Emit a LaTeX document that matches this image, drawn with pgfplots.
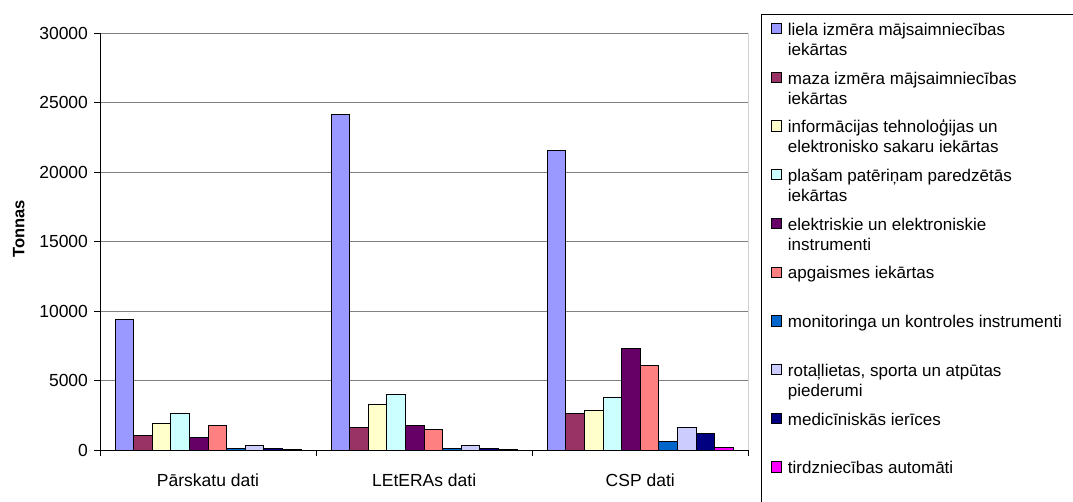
\documentclass[border=0pt]{standalone}
\usepackage{fontspec}
\setmainfont{Liberation Sans}
\usepackage{pgfplots}
\pgfplotsset{compat=1.18}
\definecolor{c1}{HTML}{9999FF}
\definecolor{c2}{HTML}{993366}
\definecolor{c3}{HTML}{FFFFCC}
\definecolor{c4}{HTML}{CCFFFF}
\definecolor{c5}{HTML}{660066}
\definecolor{c6}{HTML}{FF8080}
\definecolor{c7}{HTML}{0066CC}
\definecolor{c8}{HTML}{CCCCFF}
\definecolor{c9}{HTML}{000080}
\definecolor{c10}{HTML}{FF00FF}
\definecolor{gridgray}{HTML}{808080}
\pgfplotsset{ybar legend/.style={legend image code/.code={\draw[##1, draw=black, line width=0.8pt] (0pt,1.7pt) rectangle (10pt,12pt);}}}
\newcommand{\lgd}[2]{\parbox[t]{285pt}{\strut #1\\\strut #2}}
\begin{document}
\begin{tikzpicture}
\begin{axis}[
  name=ax, at={(0,0)}, anchor=south west,
  scale only axis, width=648.3pt, height=416.7pt,
  ybar=0pt, bar width=18.6pt,
  xmin=-0.5, xmax=2.5, ymin=0, ymax=30000,
  xtick={-0.5,0.5,1.5,2.5}, xticklabels={,,,},
  extra x ticks={0,1,2},
  extra x tick labels={Pārskatu dati, LEtERAs dati, CSP dati},
  extra x tick style={major tick length=0pt, xticklabel style={yshift=-20pt}},
  ytick={0,5000,10000,15000,20000,25000,30000},
  scaled y ticks=false,
  yticklabel style={/pgf/number format/fixed, /pgf/number format/1000 sep={}, xshift=-3pt},
  /pgf/number format/assume math mode=true,
  ticklabel style={font=\fontsize{17.5}{20}\selectfont},
  tick align=outside,
  major tick length=5.5pt,
  tick style={black, line width=0.8pt},
  axis x line*=bottom, axis y line*=left,
  axis line style={-, black, line width=0.8pt},
  ymajorgrids, grid style={gridgray, line width=0.8pt},
  ylabel={\fontsize{16.5}{18}\selectfont\bfseries Tonnas},
  ylabel style={at={(axis description cs:-0.1254,0.5304)}, anchor=center},
  legend style={at={(1.0196,1.0463)}, anchor=north west, draw=black, line width=0.8pt, fill=white,
    inner xsep=9.7pt, inner ysep=7pt, row sep=33.2pt, column sep=6pt,
    nodes={inner sep=0pt, font=\fontsize{17}{20}\selectfont},
    cells={anchor=base west}},
  every axis plot/.append style={draw=black, line width=1pt},
]
\addplot[fill=c1] coordinates {(0,9430) (1,24140) (2,21550)};
\addlegendentry{\lgd{liela izmēra mājsaimniecības}{iekārtas}}
\addplot[fill=c2] coordinates {(0,1010) (1,1630) (2,2640)};
\addlegendentry{\lgd{maza izmēra mājsaimniecības}{iekārtas}}
\addplot[fill=c3] coordinates {(0,1920) (1,3240) (2,2860)};
\addlegendentry{\lgd{informācijas tehnoloģijas un}{elektronisko sakaru iekārtas}}
\addplot[fill=c4] coordinates {(0,2640) (1,3980) (2,3770)};
\addlegendentry{\lgd{plašam patēriņam paredzētās}{iekārtas}}
\addplot[fill=c5] coordinates {(0,910) (1,1800) (2,7300)};
\addlegendentry{\lgd{elektriskie un elektroniskie}{instrumenti}}
\addplot[fill=c6] coordinates {(0,1730) (1,1510) (2,6100)};
\addlegendentry{\lgd{apgaismes iekārtas}{}}
\addplot[fill=c7] coordinates {(0,80) (1,80) (2,580)};
\addlegendentry{\lgd{monitoringa un kontroles instrumenti}{}}
\addplot[fill=c8] coordinates {(0,330) (1,310) (2,1600)};
\addlegendentry{\lgd{rotaļlietas, sporta un atpūtas}{piederumi}}
\addplot[fill=c9] coordinates {(0,80) (1,80) (2,1200)};
\addlegendentry{\lgd{medicīniskās ierīces}{}}
\addplot[fill=c10] coordinates {(0,60) (1,60) (2,210)};
\addlegendentry{\lgd{tirdzniecības automāti}{}}
\addlegendimage{empty legend}
\addlegendentry{\strut}
\draw[gridgray, line width=0.8pt] (rel axis cs:1,0) -- (rel axis cs:1,1);
\end{axis}
\pgfresetboundingbox
\path[use as bounding box] ([shift={(-100pt,-51pt)}]ax.south west) rectangle ([shift={(324.7pt,33.3pt)}]ax.north east);
\end{tikzpicture}
\end{document}
